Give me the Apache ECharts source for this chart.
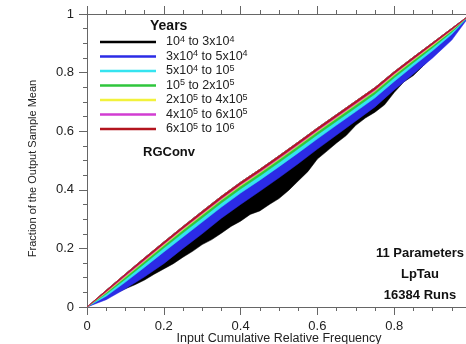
<!DOCTYPE html>
<html>
<head>
<meta charset="utf-8">
<script src="https://cdn.jsdelivr.net/npm/echarts@6/dist/echarts.min.js"></script>
<style>
  html, body { margin: 0; padding: 0; background: #fff; }
  #chart { width: 466px; height: 344px; }
</style>
</head>
<body>
<div id="chart"></div>
<script>
// Simulation periods (years) and their legend labels with exponents
const periods = [
  '10^4 to 3x10^4', '3x10^4 to 5x10^4', '5x10^4 to 10^5', '10^5 to 2x10^5',
  '2x10^5 to 4x10^5', '4x10^5 to 6x10^5', '6x10^5 to 10^6'
];
const periodLabels = [
  '{n|10}{s|4}{n| to 3x10}{s|4}',
  '{n|3x10}{s|4}{n| to 5x10}{s|4}',
  '{n|5x10}{s|4}{n| to 10}{s|5}',
  '{n|10}{s|5}{n| to 2x10}{s|5}',
  '{n|2x10}{s|5}{n| to 4x10}{s|5}',
  '{n|4x10}{s|5}{n| to 6x10}{s|5}',
  '{n|6x10}{s|5}{n| to 10}{s|6}'
];
const periodColors = ['#000000', '#2b2be6', '#35e4f0', '#2fc63c', '#f2f23c', '#d23cd2', '#b3141e'];

// Input cumulative relative frequency grid
const freqX = [0, 0.05, 0.1, 0.15, 0.2, 0.25, 0.3, 0.35, 0.4, 0.45, 0.5,
               0.55, 0.6, 0.65, 0.7, 0.75, 0.8, 0.85, 0.9, 0.95, 1];

// Upper envelope of all curves (fraction of output sample mean)
const envelope = [0, 0.057, 0.113, 0.168, 0.222, 0.275, 0.327, 0.378, 0.426, 0.470, 0.516,
                  0.563, 0.611, 0.657, 0.703, 0.749, 0.803, 0.853, 0.902, 0.951, 1];

// Lower edge of each period's band of curves
const lowerRed     = [0, 0.053, 0.108, 0.162, 0.216, 0.269, 0.320, 0.371, 0.419, 0.463, 0.509,
                      0.556, 0.604, 0.650, 0.696, 0.742, 0.797, 0.847, 0.897, 0.947, 1];
const lowerMagenta = [0, 0.051, 0.105, 0.159, 0.213, 0.266, 0.317, 0.368, 0.416, 0.460, 0.506,
                      0.553, 0.601, 0.647, 0.693, 0.739, 0.794, 0.845, 0.895, 0.945, 1];
const lowerYellow  = [0, 0.049, 0.102, 0.156, 0.210, 0.263, 0.314, 0.365, 0.413, 0.457, 0.503,
                      0.550, 0.598, 0.644, 0.690, 0.736, 0.791, 0.842, 0.892, 0.943, 1];
const lowerGreen   = [0, 0.044, 0.095, 0.148, 0.201, 0.253, 0.304, 0.355, 0.403, 0.447, 0.493,
                      0.540, 0.588, 0.634, 0.680, 0.727, 0.782, 0.834, 0.885, 0.938, 1];
const lowerCyan    = [0, 0.037, 0.085, 0.136, 0.188, 0.239, 0.290, 0.341, 0.389, 0.433, 0.479,
                      0.526, 0.574, 0.621, 0.667, 0.714, 0.770, 0.823, 0.875, 0.931, 1];
const lowerBlue    = [0, 0.025, 0.062, 0.103, 0.148, 0.200, 0.250, 0.303, 0.350, 0.395, 0.441,
                      0.489, 0.539, 0.587, 0.635, 0.683, 0.741, 0.795, 0.850, 0.911, 1];

// Ragged lower edge of the earliest period, on a finer grid
const blackEdgeX = [0, 0.025, 0.05, 0.075, 0.1, 0.125, 0.15, 0.175, 0.2, 0.225, 0.25,
                    0.275, 0.3, 0.325, 0.35, 0.375, 0.4, 0.425, 0.45, 0.475, 0.5,
                    0.525, 0.55, 0.575, 0.6, 0.625, 0.65, 0.675, 0.7, 0.725, 0.75,
                    0.775, 0.8, 0.825, 0.85, 0.875, 0.9, 0.925, 0.95, 0.975, 1];
const lowerBlack = [0, 0.016, 0.030, 0.047, 0.062, 0.076, 0.092, 0.112, 0.130, 0.148, 0.170,
                    0.190, 0.213, 0.230, 0.252, 0.275, 0.293, 0.316, 0.328, 0.350, 0.370,
                    0.398, 0.430, 0.462, 0.505, 0.532, 0.560, 0.585, 0.620, 0.645, 0.665,
                    0.690, 0.732, 0.768, 0.790, 0.822, 0.856, 0.890, 0.928, 0.962, 1];

const tickValues = [0, 0.2, 0.4, 0.6, 0.8, 1];
const tickLabels = ['0', '0.2', '0.4', '0.6', '0.8', '1'];

const bandLowers = [
  [blackEdgeX, lowerBlack], [freqX, lowerBlue], [freqX, lowerCyan], [freqX, lowerGreen],
  [freqX, lowerYellow], [freqX, lowerMagenta], [freqX, lowerRed]
];

const FONT = '"Liberation Sans", Arial, sans-serif';
const AXIS_GRAY = '#666';
const TEXT = '#222';

function tickFormatter(v) {
  const i = tickValues.findIndex(t => Math.abs(t - v) < 1e-9);
  return i >= 0 ? tickLabels[i] : '';
}

// Each period is a filled band between the envelope and its lower edge
function bandSeries(idx) {
  const [lx, ly] = bandLowers[idx];
  const color = periodColors[idx];
  return {
    name: periods[idx],
    type: 'custom',
    coordinateSystem: 'cartesian2d',
    data: [[0, 0]],
    itemStyle: { color: color },
    silent: true,
    renderItem: function (params, api) {
      const pts = [];
      for (let i = 0; i < freqX.length; i++) pts.push(api.coord([freqX[i], envelope[i]]));
      for (let i = lx.length - 1; i >= 0; i--) pts.push(api.coord([lx[i], ly[i]]));
      return { type: 'polygon', shape: { points: pts }, style: { fill: color, stroke: color, lineWidth: 0.5 } };
    }
  };
}

const chart = echarts.init(document.getElementById('chart'), null, { renderer: 'canvas' });

const axisCommon = {
  type: 'value', min: 0, max: 1, interval: 0.2,
  axisLine: { show: true, lineStyle: { color: AXIS_GRAY, width: 1 } },
  axisTick: { show: true, inside: false, length: 8, lineStyle: { color: AXIS_GRAY } },
  minorTick: { show: true, splitNumber: 4, length: 4, lineStyle: { color: AXIS_GRAY } },
  splitLine: { show: false }
};

chart.setOption({
  animation: false,
  backgroundColor: '#fff',
  grid: { left: 87, top: 14, width: 384, height: 293, containLabel: false, outerBoundsMode: 'none' },
  xAxis: [
    Object.assign({}, axisCommon, {
      position: 'bottom',
      name: 'Input Cumulative Relative Frequency',
      nameLocation: 'middle', nameGap: 25, nameMoveOverlap: false,
      nameTextStyle: { fontFamily: FONT, fontSize: 12.5, color: TEXT },
      axisLabel: { margin: 13, fontFamily: FONT, fontSize: 13, color: TEXT, formatter: tickFormatter }
    }),
    Object.assign({}, axisCommon, {
      position: 'top',
      axisLabel: { show: false }
    })
  ],
  yAxis: Object.assign({}, axisCommon, {
    position: 'left',
    name: 'Fraction of the Output Sample Mean',
    nameLocation: 'middle', nameGap: 49, nameMoveOverlap: false,
    nameTextStyle: { fontFamily: FONT, fontSize: 11, color: TEXT, padding: [0, 16, 0, 0] },
    axisLabel: { margin: 13, fontFamily: FONT, fontSize: 13, color: TEXT, formatter: tickFormatter }
  }),
  legend: {
    orient: 'vertical', left: 100, top: 35, padding: 0, itemGap: 1,
    itemWidth: 56, itemHeight: 2.5, icon: 'rect', selectedMode: false,
    data: periods,
    formatter: function (name) { return periodLabels[periods.indexOf(name)]; },
    textStyle: {
      padding: [0, 0, 0, 5],
      rich: {
        n: { fontFamily: FONT, fontSize: 12.5, lineHeight: 14, color: TEXT },
        s: { fontFamily: FONT, fontSize: 9, lineHeight: 7, verticalAlign: 'top', color: TEXT }
      }
    }
  },
  graphic: [
    { type: 'text', left: 150, top: 19, silent: true,
      style: { text: 'Years', font: 'bold 14px ' + FONT, fill: '#111' } },
    { type: 'text', left: 143, top: 146, silent: true,
      style: { text: 'RGConv', font: 'bold 13px ' + FONT, fill: '#111' } },
    { type: 'text', x: 420, y: 243, silent: true,
      style: { text: '11 Parameters\nLpTau\n16384 Runs', font: 'bold 13px ' + FONT,
               fill: '#111', align: 'center', verticalAlign: 'top', lineHeight: 21 } }
  ],
  series: periods.map((p, i) => bandSeries(i))
});
</script>
</body>
</html>
